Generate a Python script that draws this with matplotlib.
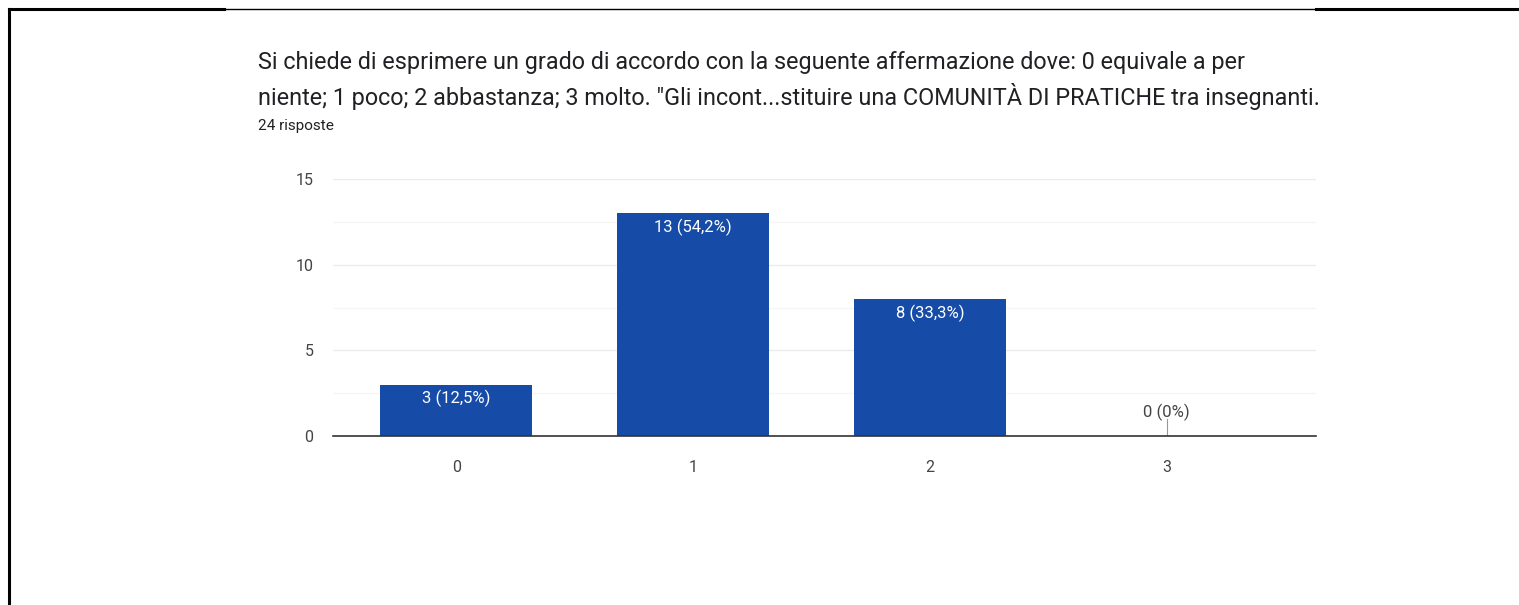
import matplotlib.pyplot as plt
from matplotlib.lines import Line2D

# data
categories = ["0", "1", "2", "3"]
counts = [3, 13, 8, 0]
labels = ["3 (12,5%)", "13 (54,2%)", "8 (33,3%)", "0 (0%)"]
yticks = [0, 5, 10, 15]
title_lines = ["Si chiede di esprimere un grado di accordo con la seguente affermazione dove: 0 equivale a per",
               "niente; 1 poco; 2 abbastanza; 3 molto. \"Gli incont...stituire una COMUNITÀ DI PRATICHE tra insegnanti."]
subtitle = "24 risposte"

bar_color = "#164ca8"

plt.rcParams['font.family'] = ['Roboto', 'DejaVu Sans']

fig = plt.figure(figsize=(15.19, 6.05), dpi=100)
fig.patch.set_facecolor("white")

# frame lines of the screenshot
fig.add_artist(Line2D([9 / 1519, 9 / 1519], [0, 1 - 9 / 605], color="black", lw=2.2))
fig.add_artist(Line2D([9 / 1519, 224 / 1519], [1 - 9 / 605] * 2, color="black", lw=2.2))
fig.add_artist(Line2D([224 / 1519, 1316 / 1519], [1 - 9 / 605] * 2, color="black", lw=1.0))
fig.add_artist(Line2D([1316 / 1519, 1], [1 - 9 / 605] * 2, color="black", lw=2.2))

for line, ypx in zip(title_lines, [62, 96]):
    fig.text(258 / 1519, 1 - ypx / 605, line, fontsize=16.8, color="#202124",
             va="center", ha="left")
fig.text(258 / 1519, 1 - 126 / 605, subtitle, fontsize=11, color="#202124",
         va="center", ha="left")

ax = fig.add_axes([333 / 1519, 169 / 605, (1316 - 333) / 1519, (436 - 179) / 605])
x = list(range(len(categories)))
ax.bar(x, counts, width=0.64, color=bar_color, zorder=3)
ax.set_xlim(-0.52, 3.63)
ax.set_ylim(0, 15)
ax.set_yticks(yticks)
ax.set_yticks([2.5, 7.5, 12.5], minor=True)
ax.set_xticks(x)
ax.set_xticklabels(categories)
ax.grid(axis="y", which="major", color="#ebebeb", lw=1, zorder=0)
ax.grid(axis="y", which="minor", color="#f5f5f5", lw=1, zorder=0)
for s in ["top", "right", "left"]:
    ax.spines[s].set_visible(False)
ax.spines["bottom"].set_color("#333333")
ax.spines["bottom"].set_linewidth(1.2)
ax.spines["bottom"].set_zorder(4)
ax.tick_params(axis="both", which="both", length=0, labelsize=11.5, colors="#444444")
ax.tick_params(axis="y", pad=14)
ax.tick_params(axis="x", pad=17)

for xi, c, lab in zip(x, counts, labels):
    if c > 0:
        ax.annotate(lab, (xi, c), xytext=(0, -4), textcoords="offset points",
                    ha="center", va="top", color="white", fontsize=12, zorder=5)
    else:
        ax.plot([xi, xi], [0, 1.0], color="#999999", lw=0.8, zorder=4)
        ax.annotate(lab, (xi, c), xytext=(0, 17), textcoords="offset points",
                    ha="center", va="center", color="#444444", fontsize=12, zorder=5)

fig.savefig("out.png", dpi=100, facecolor="white")
